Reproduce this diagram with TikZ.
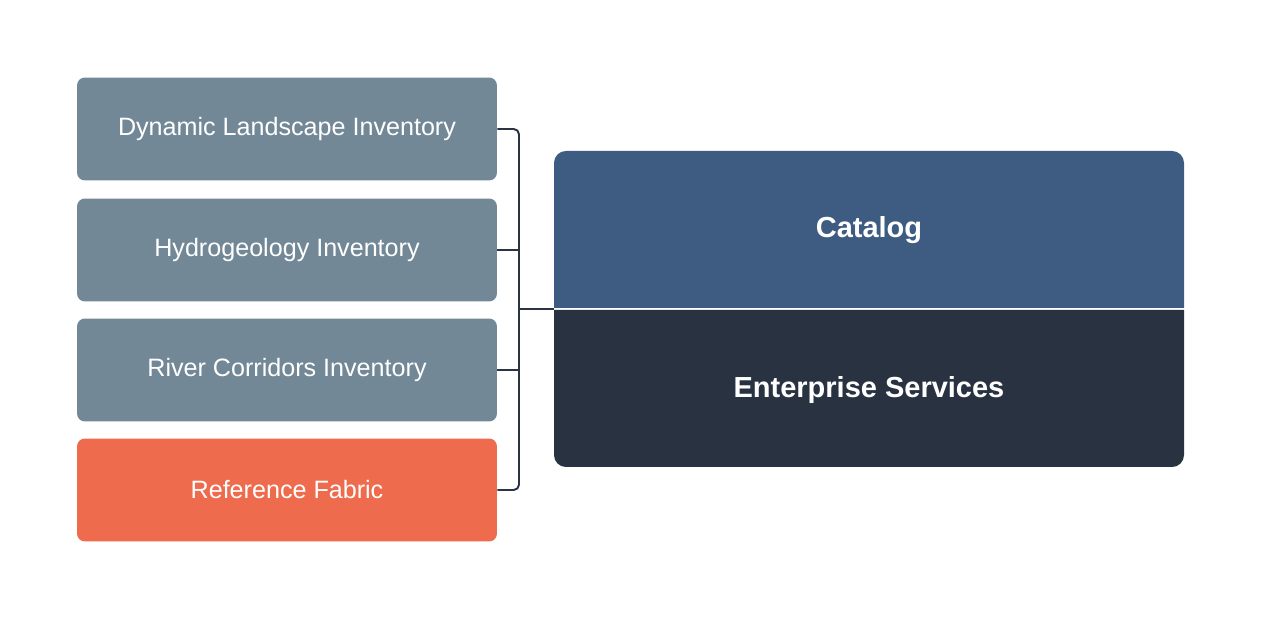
\documentclass[tikz,border=0pt]{standalone}
\usepackage{fontspec}
\setmainfont{Liberation Sans}
\usetikzlibrary{positioning, calc}

\definecolor{invgray}{HTML}{738896}
\definecolor{reforange}{HTML}{EF6B4D}
\definecolor{catblue}{HTML}{3E5C81}
\definecolor{entdark}{HTML}{293241}
\definecolor{linkdark}{HTML}{2B3444}

\tikzset{
    invbox/.style={fill=invgray, rounded corners=4.5pt, minimum width=8.4cm, minimum height=2.06cm,
        text=white, font=\fontsize{14.3}{17}\selectfont, inner sep=0pt},
    title/.style={text=white, font=\fontsize{16.5}{19}\selectfont\bfseries},
    link/.style={linkdark, line width=1.1pt}
}

\begin{document}
\begin{tikzpicture}[x=0.02cm, y=-0.02cm]
    \useasboundingbox (0,0) rectangle (1261,617);

    % inventories on the left
    \node[invbox] (dli) at (287,129) {Dynamic Landscape Inventory};
    \node[invbox] (hyd) at (287,250) {Hydrogeology Inventory};
    \node[invbox] (riv) at (287,370) {River Corridors Inventory};
    \node[invbox, fill=reforange] (ref) at (287,490) {Reference Fabric};

    % catalog and enterprise services block
    \fill[catblue] (554,308) [rounded corners=6.8pt] -- (554,151) -- (1184,151) [sharp corners] -- (1184,308) -- cycle;
    \fill[entdark] (554,310) [rounded corners=6.8pt] -- (554,467) -- (1184,467) [sharp corners] -- (1184,310) -- cycle;
    \node[title] (cat) at (869,230) {Catalog};
    \node[title] (ent) at (869,390) {Enterprise Services};
    \coordinate (core) at (554,309);

    % bracket
    \coordinate (bus) at (519,309);
    \draw[link, rounded corners=3pt] (dli.east) -| (bus) |- (ref.east);
    \draw[link] (hyd.east) -- (hyd.east -| bus);
    \draw[link] (riv.east) -- (riv.east -| bus);
    \draw[link] (bus) -- (core);
\end{tikzpicture}
\end{document}
